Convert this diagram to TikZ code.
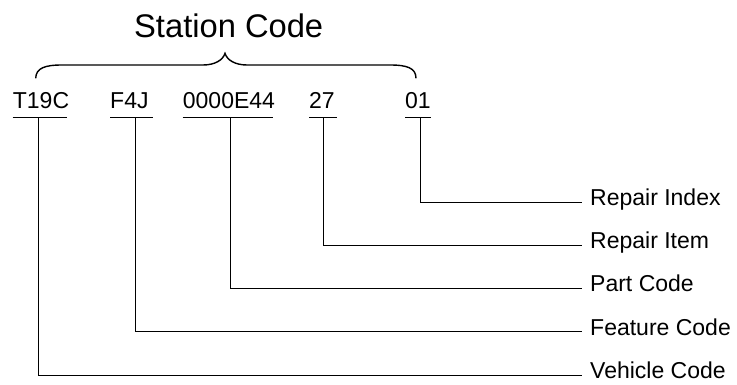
\documentclass[tikz,border=0pt]{standalone}
\usepackage{fontspec}
\setmainfont{Liberation Sans}
\begin{document}
\begin{tikzpicture}[x=1pt,y=-1pt,
  codetext/.style={anchor=base west,inner sep=0pt,font=\fontsize{23}{27}\selectfont},
  labeltext/.style={anchor=west,inner xsep=8pt,inner ysep=0pt,text height=0.716em,text depth=0pt,font=\fontsize{23}{27}\selectfont},
  conn/.style={line width=1pt,black},
  uline/.style={line width=1pt,black}]
\useasboundingbox (0,0) rectangle (737,385);
% title
\node[anchor=base,inner sep=0pt,font=\fontsize{32.7}{38}\selectfont] (title) at (228.7,37.3) {Station Code};
% brace
\draw[line width=1.4pt] (35.7,78.3) .. controls (36,68) and (45,65) .. (62,65) -- (203,65)
  .. controls (215,65) and (223,60) .. (225,53.3)
  .. controls (227,60) and (235,65) .. (247,65) -- (390,65)
  .. controls (407,65) and (416,68) .. (416,78.3);
% codes
\node[codetext] (c1) at (12.7,108.3) {T19C};
\node[codetext] (c2) at (110,108.3) {F4J};
\node[codetext] (c3) at (182.7,108.3) {0000E44};
\node[codetext] (c4) at (309,108.3) {27};
\node[codetext] (c5) at (405,108.3) {01};
% underlines
\coordinate (u1a) at (12.7,117.7);  \coordinate (u1b) at (66.7,117.7);
\coordinate (u2a) at (110,117.7);   \coordinate (u2b) at (152.7,117.7);
\coordinate (u3a) at (182.7,117.7); \coordinate (u3b) at (273.3,117.7);
\coordinate (u4a) at (309,117.7);   \coordinate (u4b) at (336.7,117.7);
\coordinate (u5a) at (405,117.7);   \coordinate (u5b) at (430.7,117.7);
\draw[uline] (u1a) -- (u1b);
\draw[uline] (u2a) -- (u2b);
\draw[uline] (u3a) -- (u3b);
\draw[uline] (u4a) -- (u4b);
\draw[uline] (u5a) -- (u5b);
% connector starts
\coordinate (s1) at (38.3,117.7);
\coordinate (s2) at (135,117.7);
\coordinate (s3) at (230,117.7);
\coordinate (s4) at (323.3,117.7);
\coordinate (s5) at (420,117.7);
% labels
\node[labeltext] (l5) at (582,202.3) {Repair Index};
\node[labeltext] (l4) at (582,245) {Repair Item};
\node[labeltext] (l3) at (582,288.3) {Part Code};
\node[labeltext] (l2) at (582,331.7) {Feature Code};
\node[labeltext] (l1) at (582,375) {Vehicle Code};
% connectors
\draw[conn] (s5) |- (l5.west);
\draw[conn] (s4) |- (l4.west);
\draw[conn] (s3) |- (l3.west);
\draw[conn] (s2) |- (l2.west);
\draw[conn] (s1) |- (l1.west);
\end{tikzpicture}
\end{document}
